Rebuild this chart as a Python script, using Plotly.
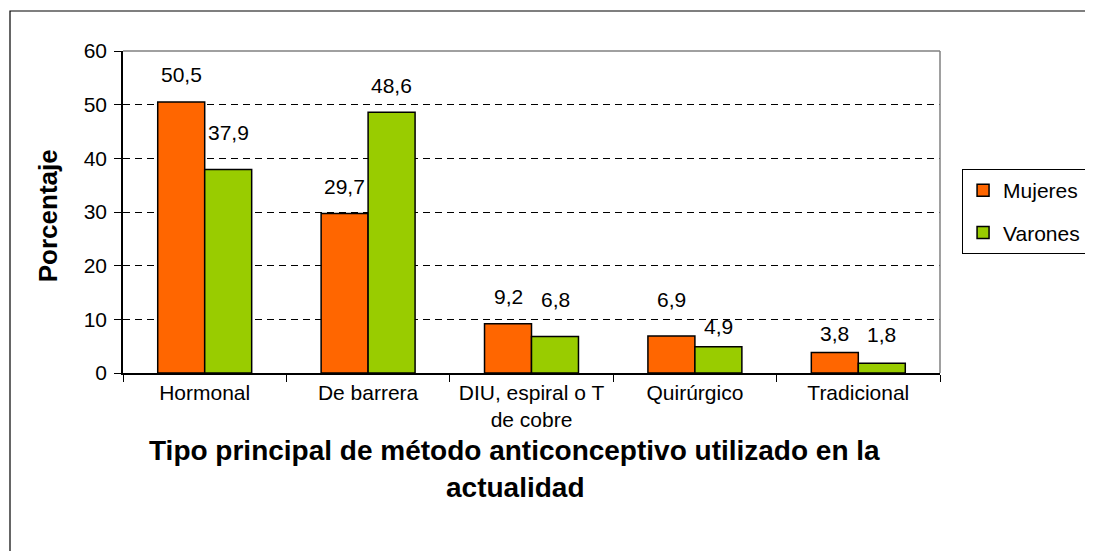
import plotly.graph_objects as go

categories = ["Hormonal", "De barrera", "DIU, espiral o T<br>de cobre", "Quirúrgico", "Tradicional"]
mujeres = [50.5, 29.7, 9.2, 6.9, 3.8]
varones = [37.9, 48.6, 6.8, 4.9, 1.8]
series_names = ["Mujeres", "Varones"]
y_ticks = [0, 10, 20, 30, 40, 50, 60]

# style: label offsets (px above bar top) imitating the original label placement
mujeres_label_shift = [27, 27, 27, 36, 19]
varones_label_shift = [37, 27, 37, 20, 29]

FONT = "Liberation Sans, Arial, sans-serif"
ORANGE = "#FF6600"
GREEN = "#99CC00"

fig = go.Figure()
fig.add_trace(go.Bar(x=categories, y=mujeres, name=series_names[0], legendgroup="m",
                     marker=dict(color=ORANGE, line=dict(color="black", width=1.5))))
fig.add_trace(go.Bar(x=categories, y=varones, name=series_names[1], legendgroup="v",
                     marker=dict(color=GREEN, line=dict(color="black", width=1.5))))

def fmt(v):
    return f"{v:.1f}".replace(".", ",")

bar_half = 23.5
annotations = []
for cat, v, s in zip(categories, mujeres, mujeres_label_shift):
    annotations.append(dict(x=cat, y=v, xref="x", yref="y", text=fmt(v), showarrow=False,
                            xshift=-bar_half, yshift=s, yanchor="middle",
                            font=dict(family=FONT, size=21, color="black")))
for cat, v, s in zip(categories, varones, varones_label_shift):
    annotations.append(dict(x=cat, y=v, xref="x", yref="y", text=fmt(v), showarrow=False,
                            xshift=bar_half, yshift=s, yanchor="middle",
                            font=dict(family=FONT, size=21, color="black")))

# axis titles
annotations.append(dict(text="<b>Porcentaje</b>", textangle=-90, xref="paper", yref="paper",
                        x=-0.0918, y=0.49, showarrow=False, xanchor="center", yanchor="middle",
                        font=dict(family=FONT, size=26, color="black")))
annotations.append(dict(text="<b>Tipo principal de método anticonceptivo utilizado en la</b>",
                        xref="paper", yref="paper", x=0.4798, y=-0.2422, showarrow=False,
                        xanchor="center", yanchor="middle",
                        font=dict(family=FONT, size=28, color="black")))
annotations.append(dict(text="<b>actualidad</b>",
                        xref="paper", yref="paper", x=0.4798, y=-0.357, showarrow=False,
                        xanchor="center", yanchor="middle",
                        font=dict(family=FONT, size=28, color="black")))

shapes = [
    # plot area top and right borders (gray)
    dict(type="line", xref="paper", yref="paper", x0=0, x1=1, y0=1, y1=1,
         line=dict(color="#808080", width=1.5), layer="above"),
    dict(type="line", xref="paper", yref="paper", x0=1, x1=1, y0=0, y1=1,
         line=dict(color="#808080", width=1.5), layer="above"),
    # outer chart frame
    dict(type="rect", xref="paper", yref="paper", x0=(10 - 123) / 817, x1=(1110 - 123) / 817,
         y0=(373 - 570) / 322, y1=(373 - 11) / 322, line=dict(color="black", width=1.2),
         fillcolor="rgba(0,0,0,0)", layer="below"),
]

# the page body adds an 8px offset, so the figure is sized/margined to compensate
fig.update_layout(
    width=1085, height=543,
    margin=dict(l=115, r=153, t=43, b=178, autoexpand=False),
    paper_bgcolor="white", plot_bgcolor="white",
    barmode="group", bargap=0.425, bargroupgap=0,
    font=dict(family=FONT, size=21, color="black"),
    showlegend=True,
    legend=dict(x=1.027, xanchor="left", y=0.6335, yanchor="top",
                bordercolor="black", borderwidth=1, bgcolor="white",
                font=dict(family=FONT, size=21, color="black"),
                tracegroupgap=12, traceorder="grouped"),
    annotations=annotations,
    shapes=shapes,
    xaxis=dict(showline=True, linecolor="black", linewidth=1.5, ticks="outside",
               tickson="boundaries", ticklen=7, tickcolor="black", tickwidth=1,
               showgrid=False, tickfont=dict(family=FONT, size=21, color="black"),
               fixedrange=True),
    yaxis=dict(range=[0, 60], tickvals=y_ticks, showline=True, linecolor="black", linewidth=1.5,
               ticks="outside", ticklen=7, tickcolor="black", tickwidth=1,
               showgrid=True, gridcolor="black", gridwidth=1, griddash="7px,5px",
               zeroline=False, tickfont=dict(family=FONT, size=21, color="black"),
               ticklabelstandoff=3, fixedrange=True),
)

fig.write_html("out.html")
